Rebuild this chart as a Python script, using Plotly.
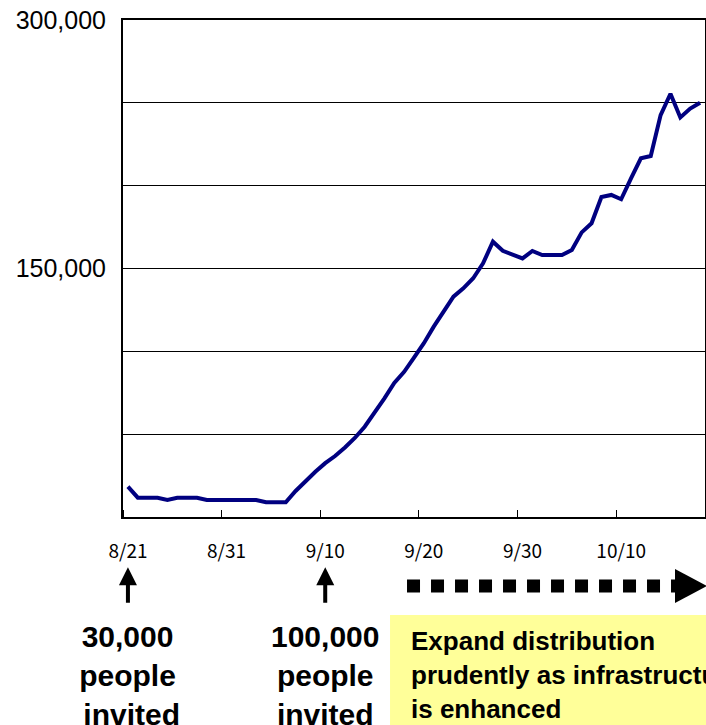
import plotly.graph_objects as go

# Daily participant counts, one value per day starting 8/21
values = [
    18300, 11650, 11650, 11650, 10300, 11650, 11650, 11650, 10300, 10300,
    10300, 10300, 10300, 10300, 8900, 8900, 8900, 15700, 21700, 27300,
    32500, 36800, 42000, 47700, 54500, 62800, 71600, 80900, 87600, 96200,
    104900, 114900, 123900, 133000, 138000, 144100, 153100, 166200, 160700, 158700,
    156100, 160600, 158100, 158100, 158100, 161200, 171800, 177300, 193200, 194400,
    191800, 204400, 216500, 217900, 242600, 255500, 241200, 246500, 250100,
]
days = list(range(len(values)))

# Date labels every ten days
tick_days = [0, 10, 20, 30, 40, 50]
tick_labels = ["8/21", "8/31", "9/10", "9/20", "9/30", "10/10"]

# Value axis: grid every 50,000, labels only at 150,000 and 300,000
y_grid = [0, 50000, 100000, 150000, 200000, 250000, 300000]
y_text = ["", "", "", "150,000", "", "", "300,000"]

# Invitation milestones (day index, caption)
milestones = [(0, "30,000<br>people<br> invited"), (20, "100,000<br>people<br>invited")]
note_text = "Expand distribution<br>prudently as infrastructure<br>is enhanced"

BOLD = "Liberation Sans, Arial, sans-serif"

fig = go.Figure(
    go.Scatter(
        x=days, y=values, mode="lines",
        line=dict(color="#000080", width=4),
        hoverinfo="skip",
    )
)

fig.update_layout(
    template="none",
    width=706, height=725,
    margin=dict(l=123, r=1, t=20, b=208),
    paper_bgcolor="white", plot_bgcolor="white",
    showlegend=False,
    xaxis=dict(
        range=[-0.5, len(values) - 0.5],
        tickmode="array", tickvals=tick_days, ticktext=tick_labels,
        ticks="", showgrid=False, zeroline=False,
        tickfont=dict(family="Noto Sans CJK JP, sans-serif", size=19, color="black"),
        ticklabelstandoff=16,
        minor=dict(tickmode="linear", tick0=-0.5, dtick=10, ticks="inside",
                   ticklen=7, tickwidth=1, tickcolor="black", showgrid=False),
        showline=True, linecolor="black", linewidth=2, mirror=True,
        automargin=False, fixedrange=True,
    ),
    yaxis=dict(
        range=[0, 300000],
        tickmode="array", tickvals=y_grid, ticktext=y_text,
        ticks="", showgrid=True, gridcolor="black", gridwidth=1,
        zeroline=False,
        tickfont=dict(family="Liberation Sans, Arial, sans-serif", size=25, color="black"),
        ticklabelstandoff=10,
        showline=True, linecolor="black", linewidth=2, mirror=True,
        automargin=False, fixedrange=True,
    ),
)

# Milestone arrows and captions
for day, caption in milestones:
    fig.add_annotation(
        x=day, xref="x", y=-0.101, yref="paper",
        ax=0, ay=37, axref="pixel", ayref="pixel",
        text="", showarrow=True,
        arrowhead=2, arrowsize=0.9, arrowwidth=4, arrowcolor="black",
    )
    fig.add_annotation(
        x=day, xref="x", y=-0.318, yref="paper",
        text=caption, showarrow=False,
        xanchor="center", yanchor="middle", align="center",
        font=dict(family=BOLD, size=30, color="black", weight="bold"),
    )

# Highlighted note box
fig.add_shape(
    type="rect", xref="paper", yref="paper",
    x0=0.4588, x1=1.02, y0=-0.197, y1=-0.45,
    fillcolor="#FFFF99", line=dict(width=0), layer="below",
)
fig.add_annotation(
    x=0.491, xref="paper", y=-0.318, yref="paper",
    text=note_text, showarrow=False,
    xanchor="left", yanchor="middle", align="left",
    font=dict(family=BOLD, size=26, color="black", weight="bold"),
)

# Dotted arrow pointing to the future period
fig.add_shape(
    type="line", xref="paper", yref="paper",
    x0=0.488, x1=0.957, y0=-0.1388, y1=-0.1388,
    line=dict(color="black", width=13, dash="13px,11px"),
)
fig.add_shape(
    type="path", xref="paper", yref="paper",
    path="M 0.9485 -0.1046 L 1.0034 -0.1388 L 0.9485 -0.1730 Z",
    fillcolor="black", line=dict(width=0),
)

fig.write_html("out.html", config={"displayModeBar": False})
